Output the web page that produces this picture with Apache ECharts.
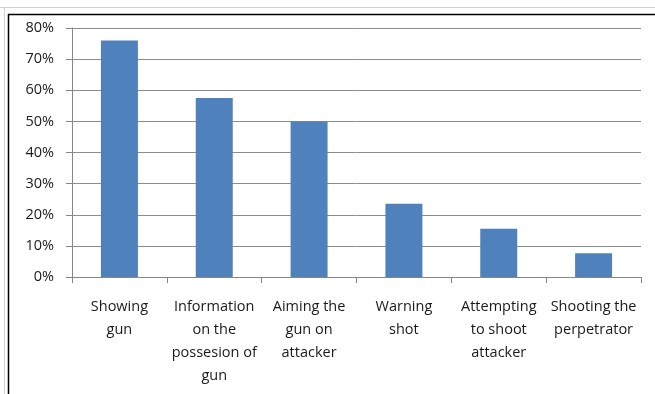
<!DOCTYPE html>
<html>
<head>
<meta charset="utf-8">
<script src="https://cdn.jsdelivr.net/npm/echarts@6/dist/echarts.min.js"></script>
<style>
html,body{margin:0;padding:0;background:#fff;}
#chart{width:655px;height:394px;}
</style>
</head>
<body>
<div id="chart"></div>
<script>
const categories = [
  "Showing\ngun",
  "Information\non the\npossesion of\ngun",
  "Aiming the\ngun on\nattacker",
  "Warning\nshot",
  "Attempting\nto shoot\nattacker",
  "Shooting the\nperpetrator"
];
const values = [76, 57.5, 50, 23.5, 15.5, 7.6];
const yMin = 0, yMax = 80, yStep = 10;

const FONT = '"Open Sans", "Noto Sans", sans-serif';
const chart = echarts.init(document.getElementById('chart'), null, {renderer: 'canvas'});
chart.setOption({
  animation: false,
  backgroundColor: '#fff',
  graphic: [
    {type: 'line', shape: {x1: 0, y1: 7.5, x2: 655, y2: 7.5}, style: {stroke: '#d0d0d0', lineWidth: 1}},
    {type: 'line', shape: {x1: 4.5, y1: 7, x2: 4.5, y2: 394}, style: {stroke: '#d0d0d0', lineWidth: 1}},
    {type: 'line', shape: {x1: 8, y1: 14.5, x2: 655, y2: 14.5}, style: {stroke: '#000', lineWidth: 1.5}},
    {type: 'line', shape: {x1: 8.5, y1: 14, x2: 8.5, y2: 394}, style: {stroke: '#000', lineWidth: 1.5}}
  ],
  grid: {left: 72, right: 14, top: 28, bottom: 117, containLabel: false},
  xAxis: {
    type: 'category',
    data: categories,
    axisLine: {show: true, lineStyle: {color: '#868686', width: 1}},
    axisTick: {show: true, alignWithLabel: false, length: 6, lineStyle: {color: '#868686'}},
    axisLabel: {
      interval: 0, margin: 18, color: '#1a1a1a', fontFamily: FONT, fontSize: 14.5,
      lineHeight: 23, align: 'center'
    }
  },
  yAxis: {
    type: 'value',
    min: yMin, max: yMax, interval: yStep,
    axisLine: {show: true, lineStyle: {color: '#868686', width: 1}},
    axisTick: {show: true, length: 6, lineStyle: {color: '#868686'}},
    splitLine: {show: true, lineStyle: {color: '#8c8c8c', width: 1}},
    axisLabel: {formatter: '{value}%', color: '#1a1a1a', fontFamily: FONT, fontSize: 14.5, margin: 18}
  },
  series: [{
    type: 'bar',
    data: values,
    barWidth: '39%',
    itemStyle: {color: '#4f81bd'}
  }]
});
</script>
</body>
</html>
